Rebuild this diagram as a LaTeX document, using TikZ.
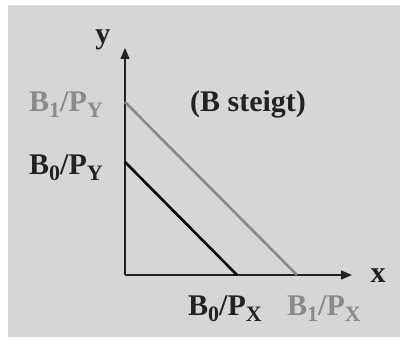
\documentclass[tikz,border=0pt]{standalone}
\usepackage{fontspec}
\setmainfont{Liberation Serif}
\usetikzlibrary{arrows.meta, positioning}
\definecolor{panelgray}{HTML}{D6D6D6}
\definecolor{lightline}{HTML}{8A8A8A}
\definecolor{darktext}{HTML}{222222}
\newcommand{\lowsub}[1]{\raisebox{-5.5pt}{\fontsize{22}{22}\selectfont #1}}

\begin{document}
\begin{tikzpicture}[x=1pt, y=1pt,
  axis/.style={line width=1.5pt, -{Triangle[length=11pt, width=9pt]}},
  budget/.style={line width=2.6pt},
  lbl/.style={font=\fontsize{30}{32}\selectfont\bfseries, text=darktext, inner sep=0pt, anchor=base}]
  % Background panel
  \fill[white] (0,0) rectangle (400,340);
  \fill[panelgray] (8,3) rectangle (400,335);
  \useasboundingbox (0,0) rectangle (400,340);

  % Axes
  \coordinate (O) at (125,65);
  \coordinate (ytip) at (125,292);
  \coordinate (xtip) at (352,65);
  \draw[axis, darktext] (O) -- (ytip);
  \draw[axis, darktext] (O) -- (xtip);

  % Budget lines
  \coordinate (B1y) at (125,238);
  \coordinate (B1x) at (297,65);
  \coordinate (B0y) at (125,178);
  \coordinate (B0x) at (237,65);
  \draw[budget, lightline] (B1y) -- (B1x);
  \draw[budget, black] (B0y) -- (B0x);

  % Labels
  \node[lbl] (ylab) at (103,296) {y};
  \node[lbl] (xlab) at (378,57) {x};
  \node[lbl, text=lightline] (B1ylab) at (66,228) {B\lowsub{1}/P\lowsub{Y}};
  \node[lbl] (B0ylab) at (66,165) {B\lowsub{0}/P\lowsub{Y}};
  \node[lbl] (shift) at (248,228) {(B steigt)};
  \node[lbl] (B0xlab) at (225,24) {B\lowsub{0}/P\lowsub{X}};
  \node[lbl, text=lightline] (B1xlab) at (324,24) {B\lowsub{1}/P\lowsub{X}};
\end{tikzpicture}
\end{document}
